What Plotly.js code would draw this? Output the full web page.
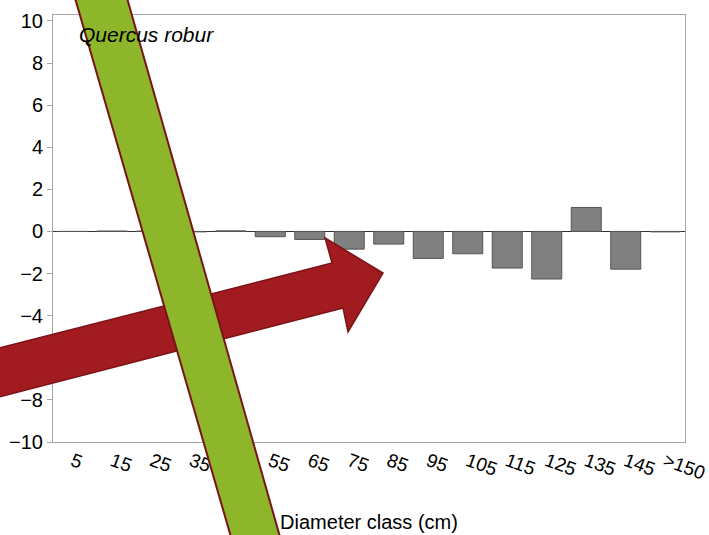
<!DOCTYPE html>
<html>
<head>
<meta charset="utf-8">
<script src="https://cdn.plot.ly/plotly-3.0.1.min.js"></script>
<style>html,body{margin:0;padding:0;background:#fff;}#chart{width:709px;height:535px;}</style>
</head>
<body>
<div id="chart"></div>
<script>
const categories = ['5','15','25','35','45','55','65','75','85','95','105','115','125','135','145','>150'];
const changeValues = [0, 0.02, 0.02, -0.02, 0.03, -0.25, -0.38, -0.84, -0.6, -1.28, -1.06, -1.74, -2.26, 1.14, -1.79, -0.02];
const yTicks = [-10,-8,-6,-4,-2,0,2,4,6,8,10];
const speciesLabel = 'Quercus robur';
const xTitle = 'Diameter class (cm)';

const W = 709, H = 535, ML = 53, MR = 24, MT = 15, MB = 93;
const PW = W - ML - MR, PH = H - MT - MB;
function px(x){ return (x - ML) / PW; }
function py(y){ return (H - MB - y) / PH; }
function path(pts){ return 'M' + pts.map(p => px(p[0]).toFixed(4) + ',' + py(p[1]).toFixed(4)).join(' L') + ' Z'; }

const arrowPts = [[-5,349],[332,263],[325,238],[383,273],[348,332],[343,308],[-5,398]];
const bandPts = [[75,-2],[127,-2],[280,537],[231,537]];

const font = 'Liberation Sans, Arial, sans-serif';
const trace = {
  type: 'bar', x: categories, y: changeValues,
  marker: {color: '#808080', line: {color: '#555555', width: 1}},
  width: 0.76, hoverinfo: 'x+y'
};
const layout = {
  width: W, height: H,
  margin: {l: ML, r: MR, t: MT, b: MB},
  paper_bgcolor: '#fff', plot_bgcolor: '#fff',
  showlegend: false,
  font: {family: font, color: '#000', size: 18},
  xaxis: {
    type: 'category', tickangle: 20, showgrid: false, zeroline: false,
    showline: true, mirror: true, linecolor: '#a6a6a6', linewidth: 1,
    ticks: '', tickfont: {size: 19, family: font},
    title: {text: xTitle, font: {size: 20, family: font}, standoff: 32},
    automargin: false
  },
  yaxis: {
    range: [-10, 10.28], tickvals: yTicks, showgrid: false,
    zeroline: true, zerolinecolor: '#333', zerolinewidth: 1,
    showline: true, mirror: true, linecolor: '#a6a6a6', linewidth: 1,
    ticks: 'outside', ticklen: 5, tickcolor: '#a6a6a6',
    tickfont: {size: 20, family: font}, automargin: false
  },
  annotations: [{
    xref: 'paper', yref: 'paper', x: px(77), y: py(34), xanchor: 'left', yanchor: 'middle',
    text: '<i>' + speciesLabel + '</i>', showarrow: false, font: {size: 21, family: font, color: '#000'}
  }],
  shapes: [
    {type: 'path', xref: 'paper', yref: 'paper', path: path(arrowPts), fillcolor: '#A11B21', line: {color: '#7A1416', width: 1.5}, layer: 'above'},
    {type: 'path', xref: 'paper', yref: 'paper', path: path(bandPts), fillcolor: '#8DB62B', line: {color: '#7A1416', width: 2}, layer: 'above'}
  ]
};
Plotly.newPlot('chart', [trace], layout, {displayModeBar: false, staticPlot: true});
</script>
</body>
</html>
